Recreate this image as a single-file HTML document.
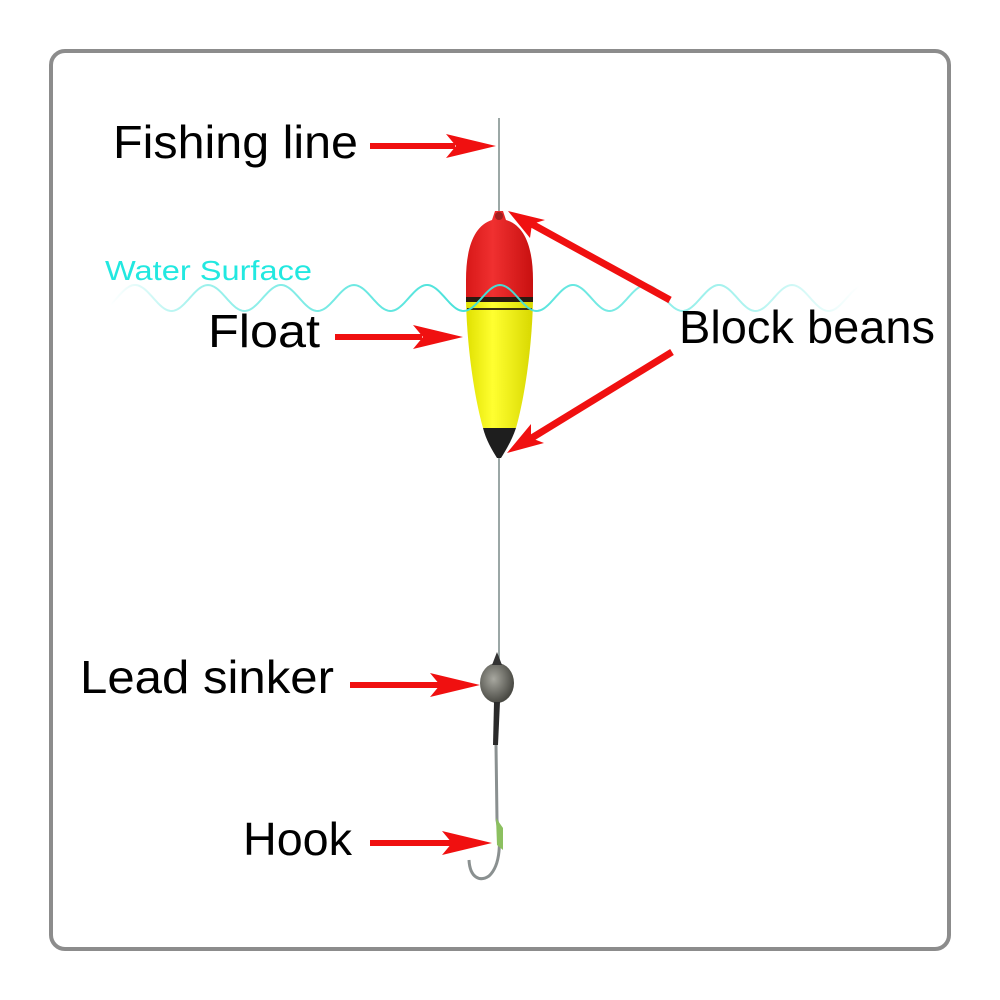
<!DOCTYPE html>
<html><head><meta charset="utf-8"><style>
html,body{margin:0;padding:0;background:#fff;}
svg{display:block;}
text{font-family:"Liberation Sans",sans-serif;}
</style></head><body>
<svg width="1000" height="1000" viewBox="0 0 1000 1000" xmlns="http://www.w3.org/2000/svg">
<defs>
<linearGradient id="wfade" x1="0" x2="1" y1="0" y2="0">
<stop offset="0" stop-color="#5ee8e0" stop-opacity="0"/>
<stop offset="0.12" stop-color="#5ee8e0" stop-opacity="0.6"/>
<stop offset="0.5" stop-color="#40e0d8" stop-opacity="1"/>
<stop offset="0.85" stop-color="#5ee8e0" stop-opacity="0.5"/>
<stop offset="1" stop-color="#5ee8e0" stop-opacity="0"/>
</linearGradient>
<linearGradient id="red" x1="0" x2="1"><stop offset="0" stop-color="#d81818"/><stop offset="0.4" stop-color="#f03030"/><stop offset="1" stop-color="#c81010"/></linearGradient>
<linearGradient id="yel" x1="0" x2="1"><stop offset="0" stop-color="#e0e000"/><stop offset="0.4" stop-color="#ffff30"/><stop offset="1" stop-color="#d8d800"/></linearGradient>
<radialGradient id="lead" cx="0.4" cy="0.4" r="0.6"><stop offset="0" stop-color="#a8a8a0"/><stop offset="1" stop-color="#4a4a44"/></radialGradient>
</defs>
<rect x="51" y="51" width="898" height="898" rx="14" fill="#fff" stroke="#8c8c8c" stroke-width="4"/>

<line x1="499" y1="118" x2="499" y2="212" stroke="#7a8a88" stroke-width="1.5"/>
<line x1="499" y1="455" x2="499" y2="660" stroke="#7a8a88" stroke-width="1.5"/>

<path d="M495,211 L503,211 L506,220 C526,226 533,250 533,280 L533,300 L466,300 L466,280 C466,250 473,226 492,220 Z" fill="url(#red)"/>
<circle cx="499" cy="216" r="4" fill="#a02020"/>
<path d="M466,300 L533,300 C532,350 524,400 516,428 L483,428 C475,400 467,350 466,300 Z" fill="url(#yel)"/>
<rect x="466" y="297" width="67" height="5" fill="#2a1a10"/>
<rect x="467" y="308" width="65" height="2" fill="#3a3010"/>
<path d="M483,428 L516,428 C512,440 506,450 501,458 L497,458 C492,450 486,440 483,428 Z" fill="#1e1e1e"/>

<path id="wave" fill="none" stroke="url(#wfade)" stroke-width="2" d=""/>
<script>
(function(){var d="";for(var x=110;x<=860;x+=2){var y=298-13*Math.cos((x-500)/73*2*Math.PI);d+=(x==110?"M":"L")+x+","+y.toFixed(1);}document.getElementById("wave").setAttribute("d",d);})();
</script>
<text x="105" y="280" font-size="28" fill="#22e8e0" textLength="207" lengthAdjust="spacingAndGlyphs">Water Surface</text>

<ellipse cx="497" cy="683" rx="17" ry="20" fill="url(#lead)"/>
<path d="M492,665 L497,652 L502,665 Z" fill="#333"/>
<path d="M494,702 L500,702 L498,745 L493,745 Z" fill="#2a2a2a"/>
<path d="M496,745 L497,820 C501,840 501,865 489,876 C480,882 470,878 469,860" fill="none" stroke="#8a9090" stroke-width="3"/>
<path d="M496,818 L503,828 L503,850 L497,845 Z" fill="#8cc060"/>

<g fill="#f01010">
<rect x="370" y="143" width="85" height="6"/>
<path d="M496,146 L446,134 L456,146 L446,158 Z"/>
<rect x="335" y="334" width="87" height="6"/>
<path d="M463,337 L413,325 L423,337 L413,349 Z"/>
<rect x="350" y="682" width="90" height="6"/>
<path d="M480,685 L430,673 L440,685 L430,697 Z"/>
<rect x="370" y="840" width="82" height="6"/>
<path d="M492,843 L442,831 L452,843 L442,855 Z"/>
</g>
<g stroke="#f01010" stroke-width="7">
<line x1="670" y1="300" x2="530" y2="223"/>
<line x1="672" y1="352" x2="530" y2="439"/>
</g>
<g fill="#f01010">
<path d="M508,211 L545,220 L532,224 L530,238 Z"/>
<path d="M507,453 L531,424 L531,438 L544,443 Z"/>
</g>

<g fill="#000" font-size="46">
<text x="113" y="158" textLength="245" lengthAdjust="spacingAndGlyphs">Fishing line</text>
<text x="208" y="347" textLength="112" lengthAdjust="spacingAndGlyphs">Float</text>
<text x="679" y="343" textLength="256" lengthAdjust="spacingAndGlyphs">Block beans</text>
<text x="80" y="693" textLength="254" lengthAdjust="spacingAndGlyphs">Lead sinker</text>
<text x="243" y="855" textLength="109" lengthAdjust="spacingAndGlyphs">Hook</text>
</g>
</svg>
</body></html>
